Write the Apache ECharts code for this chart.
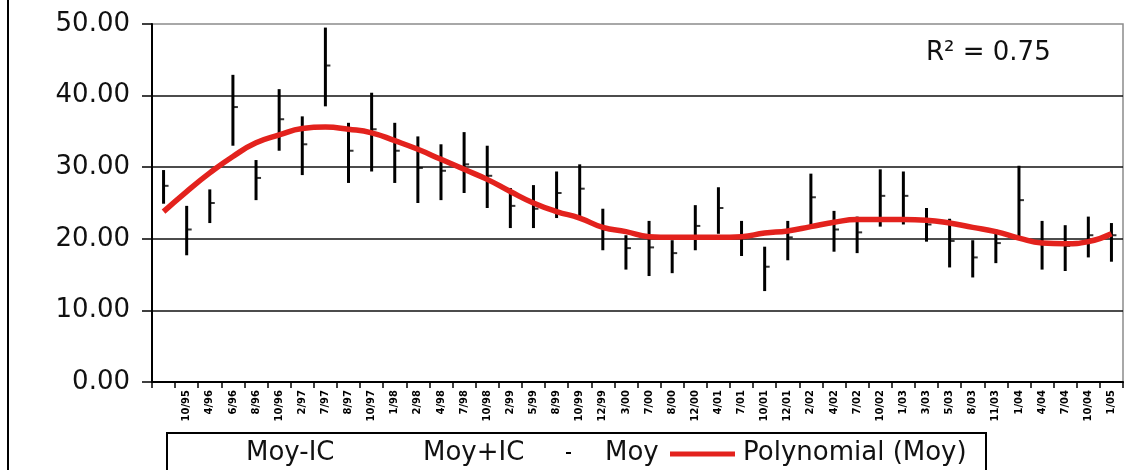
<!DOCTYPE html>
<html>
<head>
<meta charset="utf-8">
<script src="https://cdn.jsdelivr.net/npm/echarts@6/dist/echarts.min.js"></script>
<style>
  html, body { margin: 0; padding: 0; background: #fff; }
  #chart { width: 1134px; height: 470px; }
</style>
</head>
<body>
<div id="chart"></div>
<script>
// dates (first category has no label in the source)
var categories = ["", "10/95", "4/96", "6/96", "8/96", "10/96", "2/97", "7/97", "8/97", "10/97",
  "1/98", "2/98", "4/98", "7/98", "10/98", "2/99", "5/99", "8/99", "10/99", "12/99",
  "3/00", "7/00", "8/00", "12/00", "4/01", "7/01", "10/01", "12/01", "2/02", "4/02",
  "7/02", "10/02", "1/03", "3/03", "5/03", "8/03", "11/03", "1/04", "4/04", "7/04",
  "10/04", "1/05"];

// Moy-IC
var moyLow = [24.9, 17.7, 22.2, 33.0, 25.4, 32.3, 28.9, 38.5, 27.8, 29.4,
  27.8, 25.0, 25.4, 26.4, 24.3, 21.5, 21.5, 22.9, 23.1, 18.4,
  15.7, 14.8, 15.2, 18.4, 20.7, 17.6, 12.7, 17.0, 21.9, 18.2,
  18.0, 21.7, 22.0, 19.6, 16.0, 14.6, 16.6, 19.9, 15.7, 15.5,
  17.4, 16.8];

// Moy+IC
var moyHigh = [29.6, 24.6, 26.9, 42.9, 31.0, 40.9, 37.1, 49.5, 36.2, 40.4,
  36.2, 34.3, 33.2, 34.9, 33.0, 27.1, 27.5, 29.4, 30.4, 24.2,
  20.5, 22.5, 19.8, 24.7, 27.2, 22.5, 18.9, 22.5, 29.1, 23.9,
  23.1, 29.7, 29.4, 24.3, 22.8, 19.8, 21.3, 30.2, 22.5, 21.9,
  23.1, 22.2];

// Moy
var moy = [27.4, 21.3, 25.0, 38.4, 28.5, 36.7, 33.2, 44.2, 32.3, 35.3,
  32.3, 29.9, 29.5, 30.4, 28.8, 24.6, 24.2, 26.4, 27.0, 21.3,
  18.7, 18.8, 18.0, 21.8, 24.3, 20.1, 16.1, 20.2, 25.8, 21.3,
  20.9, 26.0, 26.0, 22.0, 19.7, 17.4, 19.4, 25.4, 19.5, 19.0,
  20.5, 20.5];

// Polynomial (Moy) trend
var trend = [23.8, 26.6, 29.2, 31.5, 33.4, 34.5, 35.4, 35.6, 35.3, 34.8,
  33.7, 32.5, 31.1, 29.7, 28.3, 26.6, 25.0, 23.8, 22.9, 21.6,
  21.0, 20.3, 20.2, 20.2, 20.2, 20.3, 20.8, 21.1, 21.7, 22.3,
  22.7, 22.7, 22.7, 22.6, 22.2, 21.6, 21.0, 20.1, 19.4, 19.3,
  19.6, 20.7];

var yTicks = [0, 10, 20, 30, 40, 50];
var r2Text = "R² = 0.75";
var legendNames = ["Moy-IC", "Moy+IC", "Moy", "Polynomial (Moy)"];

$chart();
function $chart() {
  var myChart = echarts.init(document.getElementById("chart"));
  var font = "DejaVu Sans";
  var bigFont = "26px 'DejaVu Sans'";

  // low / high pairs for the custom series
  var icData = [];
  for (var i = 0; i < categories.length; i++) {
    icData.push([i, moyLow[i], moyHigh[i]]);
  }

  var option = {
    backgroundColor: "#fff",
    animation: false,
    textStyle: { fontFamily: font },
    grid: {
      left: 152,
      right: 11,
      top: 24,
      bottom: 88,
      show: true,
      borderColor: "#8c8c8c",
      borderWidth: 1.5,
    },
    xAxis: {
      type: "category",
      data: categories,
      boundaryGap: true,
      axisLine: { lineStyle: { color: "#000", width: 2 } },
      axisTick: { show: true, length: 6, lineStyle: { color: "#000", width: 1.5 } },
      axisLabel: {
        interval: 0,
        rotate: 90,
        margin: 8,
        color: "#000",
        fontFamily: font,
        fontWeight: "bold",
        fontSize: 10,
      },
    },
    yAxis: {
      type: "value",
      min: yTicks[0],
      max: yTicks[yTicks.length - 1],
      interval: 10,
      axisLine: { show: true, lineStyle: { color: "#000", width: 2 } },
      axisTick: { show: true, length: 10, lineStyle: { color: "#000", width: 1.5 } },
      axisLabel: {
        margin: 22,
        color: "#111",
        fontFamily: font,
        fontSize: 26,
        formatter: function (v) {
          return v.toFixed(2);
        },
      },
      splitLine: {
        show: true,
        showMaxLine: false,
        lineStyle: { color: "#111", width: 1.5 },
      },
    },
    series: [
      {
        name: "Moy-IC / Moy+IC",
        type: "custom",
        data: icData,
        encode: { x: 0, y: [1, 2] },
        renderItem: function (params, api) {
          var lo = api.coord([api.value(0), api.value(1)]);
          var hi = api.coord([api.value(0), api.value(2)]);
          return {
            type: "line",
            shape: { x1: lo[0], y1: lo[1], x2: hi[0], y2: hi[1] },
            style: { stroke: "#000", lineWidth: 3 },
          };
        },
        z: 3,
      },
      {
        name: "Moy",
        type: "scatter",
        data: moy,
        symbol: "rect",
        symbolSize: [4, 2],
        symbolOffset: [3, 0],
        itemStyle: { color: "#000" },
        z: 4,
      },
      {
        name: "Polynomial (Moy)",
        type: "line",
        data: trend,
        smooth: true,
        symbol: "none",
        lineStyle: { color: "#e3221d", width: 5.5 },
        z: 5,
      },
    ],
    graphic: [
      // outer frame, left side
      {
        type: "line",
        shape: { x1: 8, y1: 0, x2: 8, y2: 470 },
        style: { stroke: "#000", lineWidth: 2 },
      },
      {
        type: "text",
        left: 926,
        top: 40,
        style: { text: r2Text, font: bigFont, fill: "#111" },
        z: 10,
      },
      // legend box
      {
        type: "rect",
        shape: { x: 167, y: 433, width: 819, height: 60 },
        style: { fill: "#fff", stroke: "#000", lineWidth: 2 },
      },
      {
        type: "text",
        x: 246,
        y: 453,
        style: { text: legendNames[0], font: bigFont, fill: "#111", verticalAlign: "middle" },
      },
      {
        type: "text",
        x: 423,
        y: 453,
        style: { text: legendNames[1], font: bigFont, fill: "#111", verticalAlign: "middle" },
      },
      {
        type: "rect",
        shape: { x: 566, y: 452, width: 5, height: 2 },
        style: { fill: "#000" },
      },
      {
        type: "text",
        x: 605,
        y: 453,
        style: { text: legendNames[2], font: bigFont, fill: "#111", verticalAlign: "middle" },
      },
      {
        type: "line",
        shape: { x1: 670, y1: 454, x2: 735, y2: 454 },
        style: { stroke: "#e3221d", lineWidth: 5 },
      },
      {
        type: "text",
        x: 743,
        y: 453,
        style: { text: legendNames[3], font: bigFont, fill: "#111", verticalAlign: "middle" },
      },
    ],
  };

  myChart.setOption(option);
  window.addEventListener("resize", function () {
    myChart.resize();
  });
}
</script>
</body>
</html>
